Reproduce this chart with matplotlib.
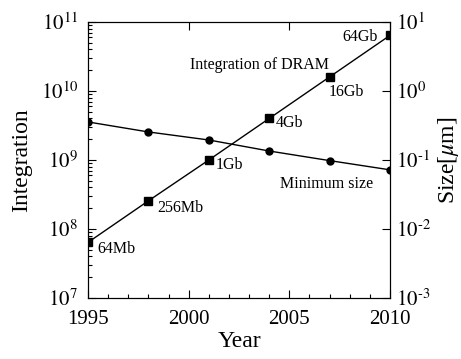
import matplotlib
matplotlib.use('Agg')
import matplotlib.pyplot as plt
from matplotlib.ticker import LogLocator, MultipleLocator, NullLocator, FuncFormatter
import numpy as np

plt.rcParams['font.family'] = 'Liberation Serif'
plt.rcParams['mathtext.fontset'] = 'stix'

# data
years = [1995, 1998, 2001, 2004, 2007, 2010]
integration = [6.4e7, 2.56e8, 1e9, 4e9, 1.6e10, 6.4e10]
dram_labels = ['64Mb', '256Mb', '1Gb', '4Gb', '16Gb', '64Gb']
min_size = [0.356, 0.255, 0.195, 0.135, 0.098, 0.072]


def pow_fmt(v, pos):
    e = int(round(np.log10(v)))
    return r'$10^{\text{%d}}$' % e


fig = plt.figure(figsize=(4.61, 3.59), dpi=100)
ax = fig.add_axes([88/461, 61/359, 302/461, 276/359])
ax2 = ax.twinx()

ax.plot(years, integration, color='black', lw=1.0, marker='s', ms=5.5)
ax2.plot(years, min_size, color='black', lw=1.0, marker='o', ms=5)

ax.set_xlim(1995, 2010)
ax.set_yscale('log')
ax.set_ylim(1e7, 1e11)
ax2.set_yscale('log')
ax2.set_ylim(1e-3, 1e1)

ax.xaxis.set_major_locator(MultipleLocator(5))
ax.xaxis.set_minor_locator(MultipleLocator(1))
ax.yaxis.set_major_locator(LogLocator(base=10, numticks=10))
ax.yaxis.set_minor_locator(LogLocator(base=10, subs=range(2, 10), numticks=10))
ax.yaxis.set_major_formatter(FuncFormatter(pow_fmt))
ax2.yaxis.set_major_locator(LogLocator(base=10, numticks=10))
ax2.yaxis.set_minor_locator(NullLocator())
ax2.yaxis.set_major_formatter(FuncFormatter(pow_fmt))

ax.tick_params(which='both', direction='in', labelsize=15, top=True, width=0.8)
ax.tick_params(which='major', length=6)
ax.tick_params(which='minor', length=3)
ax.tick_params(axis='x', which='minor', top=False)
ax.tick_params(axis='x', which='major', pad=9)
ax.tick_params(axis='y', which='major', pad=7)
ax2.tick_params(which='major', direction='in', length=6, labelsize=15, width=0.8, pad=4)

ax.set_xlabel('Year', fontsize=17, labelpad=1)
ax.set_ylabel('Integration', fontsize=17, labelpad=6)
ax2.set_ylabel(r'Size[$\mu$m]', fontsize=17, labelpad=4)

# point labels
offsets = [(6.5, -4.5), (6.5, -5), (5, -3.5), (5, -3.5), (-1, -11), (-9, -1)]
aligns = ['left', 'left', 'left', 'left', 'left', 'right']
for x, y, lab, off, ha in zip(years, integration, dram_labels, offsets, aligns):
    ax.annotate(lab, (x, y), xytext=off, textcoords='offset points',
                fontsize=11.5, va='center', ha=ha)

ax.text(0.338, 0.845, 'Integration of DRAM', transform=ax.transAxes,
        fontsize=11.5, va='center')
ax.text(0.636, 0.414, 'Minimum size', transform=ax.transAxes,
        fontsize=11.5, va='center')

fig.savefig('out.png', dpi=100)
